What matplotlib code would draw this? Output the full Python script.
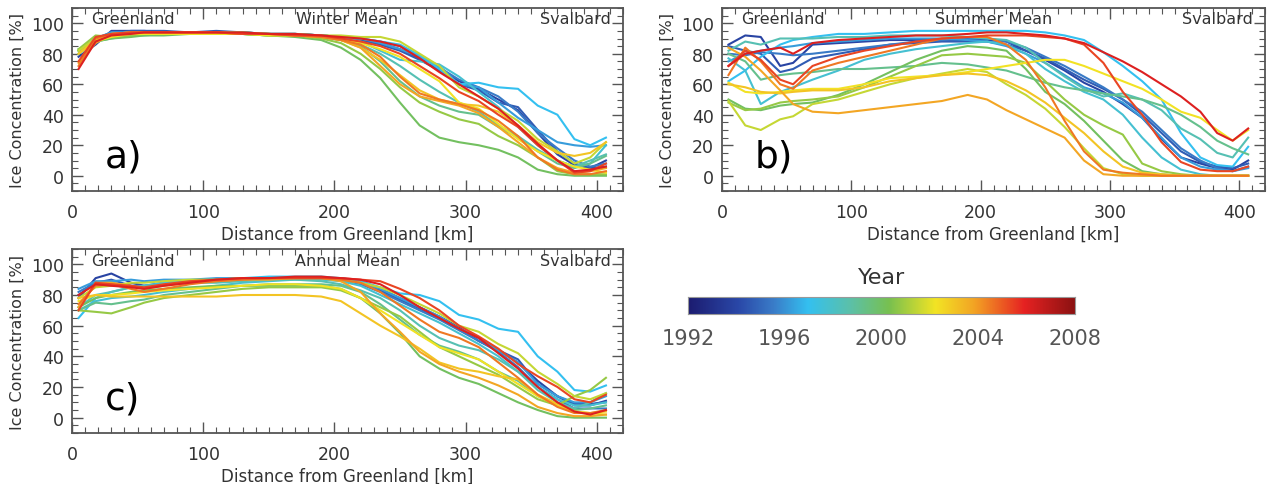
import matplotlib
matplotlib.use('Agg')
import matplotlib.pyplot as plt
import numpy as np
from matplotlib.colors import LinearSegmentedColormap
from matplotlib.ticker import MultipleLocator

# distance along the transect (km), shared by all panels
distance_km = [5, 18, 30, 45, 55, 70, 90, 110, 130, 150, 170, 190, 205, 220,
               235, 250, 265, 280, 295, 310, 325, 340, 355, 370, 383, 395, 407]

years = list(range(1992, 2009))

# Winter mean ice concentration (%), one row per year 1992..2008
winter = [
    [78, 86, 95, 95, 95, 94, 94, 94, 94, 93, 93, 92, 91, 90, 87, 83, 77, 70, 62, 57, 50, 43, 28, 14, 7, 5, 10],
    [80, 88, 93, 95, 95, 95, 94, 95, 94, 93, 93, 92, 91, 89, 86, 82, 76, 69, 60, 56, 48, 45, 30, 16, 8, 5, 6],
    [80, 90, 94, 94, 94, 94, 94, 94, 94, 93, 93, 92, 91, 90, 88, 85, 78, 71, 63, 58, 52, 42, 28, 18, 10, 6, 8],
    [82, 90, 94, 94, 94, 94, 93, 94, 93, 93, 92, 92, 91, 90, 87, 83, 78, 72, 60, 58, 48, 38, 30, 22, 20, 19, 20],
    [80, 89, 93, 94, 94, 94, 94, 94, 94, 93, 93, 92, 91, 90, 88, 86, 79, 70, 60, 61, 58, 57, 46, 40, 24, 20, 25],
    [80, 88, 92, 93, 94, 94, 94, 94, 93, 93, 92, 92, 91, 88, 82, 76, 75, 73, 65, 55, 45, 32, 20, 10, 6, 8, 20],
    [82, 90, 92, 93, 93, 93, 93, 93, 93, 92, 92, 91, 89, 86, 80, 72, 63, 55, 48, 42, 33, 26, 17, 10, 6, 10, 14],
    [83, 88, 90, 92, 92, 93, 93, 93, 93, 92, 92, 91, 89, 85, 75, 62, 52, 46, 42, 40, 32, 25, 16, 8, 5, 8, 13],
    [82, 88, 90, 91, 92, 92, 93, 93, 93, 92, 91, 89, 84, 76, 64, 48, 33, 25, 22, 20, 17, 12, 4, 1, 0, 0, 0],
    [83, 92, 91, 92, 93, 93, 93, 93, 93, 92, 92, 90, 87, 80, 70, 58, 48, 42, 37, 34, 26, 20, 12, 3, 1, 1, 1],
    [82, 90, 93, 94, 94, 94, 94, 94, 94, 93, 93, 92, 92, 91, 91, 88, 80, 72, 58, 52, 44, 36, 24, 16, 8, 12, 22],
    [80, 88, 91, 93, 93, 93, 93, 93, 93, 92, 92, 91, 90, 87, 83, 78, 70, 62, 48, 44, 34, 24, 16, 10, 6, 4, 2],
    [80, 89, 92, 93, 94, 94, 94, 94, 93, 93, 92, 91, 89, 84, 76, 66, 56, 50, 47, 46, 42, 33, 22, 15, 13, 15, 22],
    [74, 87, 93, 94, 94, 94, 94, 94, 93, 93, 92, 91, 89, 84, 72, 60, 52, 49, 46, 41, 32, 22, 12, 5, 2, 3, 5],
    [72, 90, 93, 94, 94, 94, 94, 94, 93, 93, 92, 91, 89, 86, 78, 65, 54, 50, 47, 43, 36, 26, 12, 4, 1, 1, 3],
    [75, 91, 93, 94, 94, 94, 94, 94, 93, 93, 92, 92, 90, 88, 85, 80, 72, 64, 55, 49, 40, 32, 20, 10, 2, 3, 8],
    [70, 88, 92, 93, 94, 94, 94, 94, 94, 93, 93, 92, 91, 90, 88, 85, 77, 68, 60, 52, 44, 33, 21, 10, 3, 4, 6],
]

# Summer mean ice concentration (%)
summer = [
    [86, 92, 91, 72, 74, 86, 87, 88, 89, 89, 89, 89, 89, 88, 82, 76, 69, 61, 55, 47, 38, 24, 12, 8, 5, 4, 10],
    [85, 82, 80, 68, 70, 77, 80, 83, 86, 87, 88, 88, 88, 86, 82, 77, 70, 63, 57, 50, 40, 28, 16, 9, 6, 5, 8],
    [80, 79, 81, 80, 79, 80, 82, 84, 86, 88, 89, 90, 90, 88, 84, 78, 72, 65, 58, 50, 42, 30, 18, 10, 5, 3, 6],
    [75, 80, 82, 84, 85, 87, 88, 89, 90, 90, 90, 89, 88, 85, 80, 74, 66, 58, 54, 48, 38, 25, 12, 6, 4, 3, 5],
    [62, 69, 78, 86, 89, 91, 93, 93, 94, 95, 95, 95, 95, 95, 95, 94, 92, 89, 81, 72, 62, 50, 28, 12, 7, 6, 19],
    [77, 69, 47, 55, 58, 63, 69, 76, 80, 83, 85, 87, 88, 86, 80, 70, 62, 55, 50, 40, 25, 12, 4, 1, 0, 0, 0],
    [82, 88, 86, 90, 90, 90, 91, 91, 92, 92, 92, 91, 90, 89, 84, 74, 65, 57, 52, 54, 50, 43, 31, 24, 15, 12, 25],
    [80, 75, 63, 66, 67, 68, 70, 70, 71, 72, 74, 73, 71, 69, 65, 61, 58, 56, 54, 52, 50, 46, 40, 32, 23, 18, 14],
    [50, 44, 43, 46, 47, 48, 53, 60, 68, 76, 82, 85, 84, 82, 70, 55, 47, 36, 23, 10, 3, 1, 0, 0, 0, 0, 0],
    [48, 43, 44, 48, 49, 50, 52, 58, 65, 72, 79, 80, 79, 78, 74, 62, 50, 40, 33, 27, 8, 3, 1, 0, 0, 0, 0],
    [49, 33, 30, 37, 39, 47, 50, 55, 60, 64, 67, 70, 68, 60, 53, 44, 32, 18, 5, 1, 0, 0, 0, 0, 0, 0, 0],
    [61, 55, 54, 55, 56, 57, 57, 60, 64, 65, 66, 68, 70, 72, 74, 76, 76, 72, 67, 62, 57, 50, 42, 38, 30, 23, 30],
    [60, 58, 55, 54, 55, 56, 56, 58, 62, 64, 66, 67, 66, 62, 56, 48, 38, 28, 16, 6, 2, 1, 0, 0, 0, 0, 0],
    [84, 78, 69, 56, 47, 42, 41, 43, 45, 47, 49, 53, 50, 43, 37, 31, 25, 10, 1, 0, 0, 0, 0, 0, 0, 0, 0],
    [66, 84, 75, 60, 57, 69, 74, 78, 82, 86, 90, 91, 91, 86, 76, 58, 36, 16, 4, 2, 1, 0, 0, 0, 0, 0, 0],
    [72, 82, 76, 63, 60, 72, 78, 82, 85, 88, 90, 91, 92, 92, 92, 91, 90, 86, 74, 55, 40, 22, 9, 4, 3, 3, 6],
    [72, 80, 82, 84, 80, 87, 89, 90, 91, 92, 92, 93, 94, 94, 93, 92, 90, 87, 81, 75, 68, 60, 52, 42, 28, 23, 31],
]

# Annual mean ice concentration (%)
annual = [
    [78, 91, 94, 88, 86, 88, 89, 90, 91, 91, 91, 91, 91, 89, 84, 78, 72, 66, 59, 50, 44, 36, 24, 14, 8, 8, 11],
    [80, 88, 90, 86, 85, 87, 88, 90, 91, 91, 91, 91, 90, 88, 83, 77, 71, 65, 58, 52, 44, 38, 22, 14, 9, 9, 10],
    [82, 88, 88, 86, 86, 87, 88, 90, 90, 91, 91, 91, 90, 87, 82, 76, 70, 64, 57, 50, 43, 33, 20, 12, 6, 6, 6],
    [84, 89, 89, 90, 89, 90, 90, 91, 91, 91, 91, 91, 90, 88, 84, 78, 72, 66, 58, 52, 44, 36, 22, 14, 10, 10, 14],
    [65, 78, 82, 85, 86, 88, 89, 90, 91, 92, 92, 92, 91, 89, 85, 81, 80, 76, 67, 64, 58, 56, 40, 30, 18, 17, 21],
    [70, 76, 78, 79, 80, 82, 84, 86, 88, 89, 90, 90, 89, 86, 80, 74, 68, 62, 55, 48, 40, 30, 20, 12, 8, 8, 10],
    [72, 80, 82, 85, 86, 87, 88, 88, 89, 90, 90, 89, 87, 83, 78, 70, 60, 52, 47, 44, 38, 30, 18, 10, 6, 10, 16],
    [70, 75, 74, 76, 77, 80, 82, 84, 86, 87, 87, 87, 86, 82, 74, 64, 54, 47, 43, 38, 30, 24, 14, 8, 5, 6, 8],
    [72, 78, 80, 82, 83, 84, 85, 86, 86, 86, 86, 86, 84, 78, 68, 55, 40, 32, 26, 22, 16, 10, 5, 1, 0, 0, 0],
    [70, 69, 68, 72, 75, 78, 80, 82, 84, 85, 85, 85, 83, 78, 72, 66, 56, 46, 40, 34, 28, 20, 12, 8, 14, 18, 26],
    [78, 85, 86, 88, 88, 89, 90, 90, 91, 91, 91, 91, 90, 88, 85, 80, 74, 68, 60, 56, 48, 42, 30, 22, 14, 12, 16],
    [76, 80, 80, 81, 82, 83, 84, 85, 86, 87, 87, 86, 84, 78, 70, 62, 54, 46, 42, 38, 30, 22, 14, 8, 4, 3, 2],
    [78, 80, 79, 79, 79, 79, 79, 79, 80, 80, 80, 79, 76, 68, 60, 53, 45, 36, 32, 30, 27, 25, 15, 9, 4, 3, 4],
    [72, 88, 88, 86, 84, 86, 88, 89, 90, 90, 91, 91, 89, 82, 68, 56, 43, 35, 30, 26, 21, 15, 7, 3, 1, 1, 2],
    [74, 86, 87, 84, 82, 84, 87, 89, 90, 91, 91, 91, 90, 88, 82, 73, 64, 56, 52, 46, 36, 26, 15, 7, 3, 3, 5],
    [70, 88, 87, 86, 85, 87, 89, 90, 91, 91, 91, 91, 91, 90, 89, 84, 78, 70, 60, 53, 45, 35, 27, 20, 12, 10, 15],
    [80, 87, 86, 85, 84, 86, 88, 90, 91, 91, 92, 92, 91, 90, 87, 80, 72, 65, 58, 52, 42, 32, 20, 10, 4, 2, 5],
]

panel_titles = ['Winter Mean', 'Summer Mean', 'Annual Mean']
panel_letters = ['a)', 'b)', 'c)']
cbar_ticks = [1992, 1996, 2000, 2004, 2008]

# colour table as it looks on the colour bar (IDL-like rainbow)
year_cmap = LinearSegmentedColormap.from_list('year', [
    (0.00, '#1c1c70'), (0.13, '#2a48a8'), (0.22, '#3a7cc8'), (0.31, '#34c0f0'),
    (0.42, '#5cc0a8'), (0.52, '#78c050'), (0.64, '#f2e424'), (0.74, '#f3a424'),
    (0.87, '#e62222'), (1.00, '#8c1212')])

frame_col = '#555555'
text_col = '#333333'
plt.rcParams['font.family'] = 'DejaVu Sans'

fig = plt.figure(figsize=(12.74, 4.85), dpi=100)
W, H = 1274.0, 485.0


def add_axes_px(left, top, right, bottom):
    return fig.add_axes([left / W, 1 - bottom / H, (right - left) / W, (bottom - top) / H])


def line_color(yr):
    # the thin lines look brighter than the bar ends
    t = (yr - 1992) / 16.0
    return year_cmap(0.12 + 0.76 * t)


def draw_panel(ax, data, title, letter):
    for i, yr in enumerate(years):
        ax.plot(distance_km, data[i], color=line_color(yr), lw=1.5)
    ax.set_xlim(0, 420)
    ax.set_ylim(-10, 110)
    ax.set_xticks([0, 100, 200, 300, 400])
    ax.set_yticks([0, 20, 40, 60, 80, 100])
    ax.xaxis.set_minor_locator(MultipleLocator(10))
    ax.yaxis.set_minor_locator(MultipleLocator(5))
    ax.tick_params(which='both', direction='in', top=True, right=True,
                   color=frame_col, labelcolor=text_col, labelsize=12.5)
    ax.tick_params(axis='x', which='major', pad=9)
    ax.tick_params(axis='y', which='major', pad=6)
    ax.tick_params(which='major', length=8, width=1)
    ax.tick_params(which='minor', length=4, width=0.8)
    for s in ax.spines.values():
        s.set_color(frame_col)
        s.set_linewidth(1.3)
    ax.set_xlabel('Distance from Greenland [km]', fontsize=12, color=text_col, labelpad=2)
    ax.set_ylabel('Ice Concentration [%]', fontsize=11.5, color=text_col, labelpad=4)
    ax.text(0.035, 0.94, 'Greenland', transform=ax.transAxes, fontsize=11.5,
            color=text_col, va='center', ha='left')
    ax.text(0.5, 0.94, title, transform=ax.transAxes, fontsize=11.5,
            color=text_col, va='center', ha='center')
    ax.text(0.978, 0.94, 'Svalbard', transform=ax.transAxes, fontsize=11.5,
            color=text_col, va='center', ha='right')
    ax.text(0.06, 0.19, letter, transform=ax.transAxes, fontsize=27,
            color='black', va='center', ha='left')


ax_a = add_axes_px(72, 9, 623, 192)
ax_b = add_axes_px(722, 9, 1265, 192)
ax_c = add_axes_px(72, 250, 623, 434)
for ax, data, title, letter in zip([ax_a, ax_b, ax_c], [winter, summer, annual],
                                   panel_titles, panel_letters):
    draw_panel(ax, data, title, letter)

# colour bar for the years
ax_cb = add_axes_px(688, 298, 1075, 315)
grad = np.linspace(0, 1, 256).reshape(1, -1)
ax_cb.imshow(grad, aspect='auto', cmap=year_cmap, extent=[1992, 2008, 0, 1])
ax_cb.set_yticks([])
ax_cb.set_xticks(cbar_ticks)
ax_cb.tick_params(axis='x', length=0, pad=10, labelsize=15, labelcolor='#555555')
for s in ax_cb.spines.values():
    s.set_color('#999999')
    s.set_linewidth(0.8)
ax_cb.set_title('Year', fontsize=16, color=text_col, pad=10)

fig.savefig('out.png', dpi=100)
